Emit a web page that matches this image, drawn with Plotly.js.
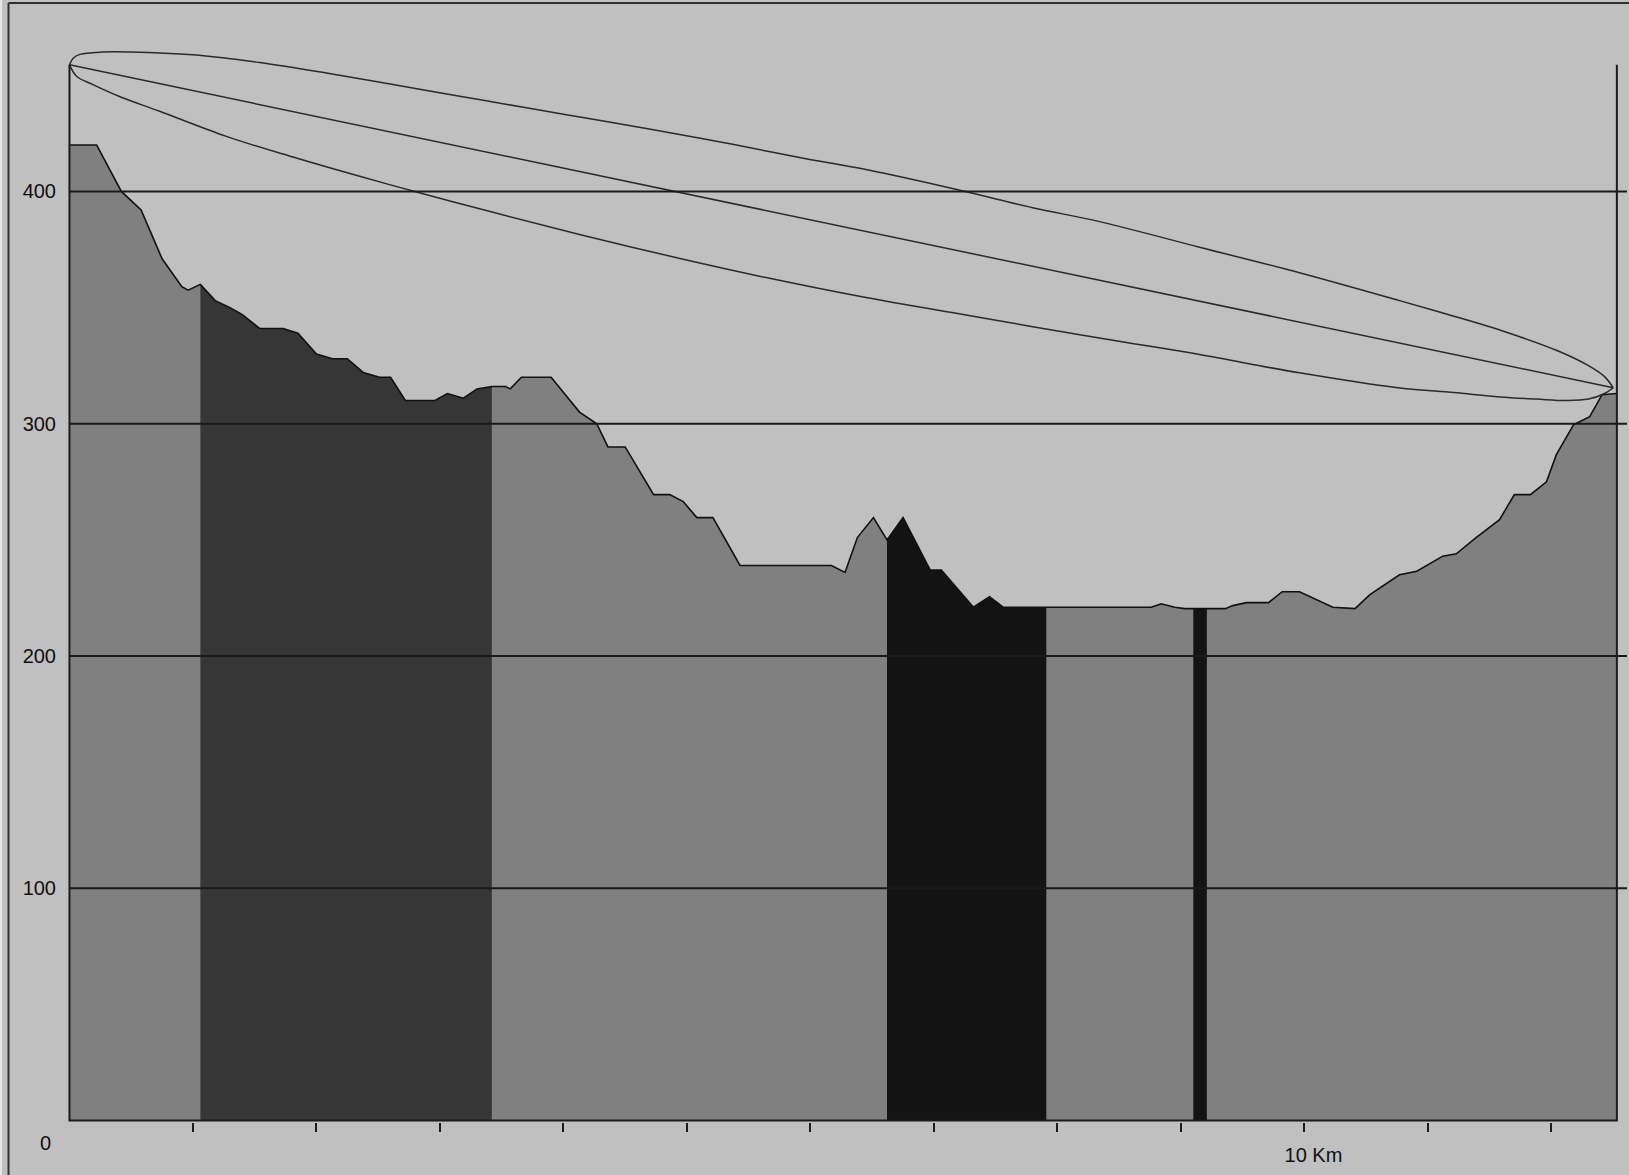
<!DOCTYPE html>
<html>
<head>
<meta charset="utf-8">
<script src="https://cdn.plot.ly/plotly-3.0.1.min.js"></script>
<style>
html,body{margin:0;padding:0;background:#c0c0c0;overflow:hidden;}
#chart{width:1629px;height:1175px;}
</style>
</head>
<body>
<div id="chart"></div>
<script>
// ---- Terrain profile (distance in km, elevation in m) ----
const distanceKm = [0, 0.22, 0.42, 0.58, 0.75, 0.91, 0.96, 1.06, 1.18, 1.30, 1.40, 1.54, 1.73, 1.85, 2.00, 2.13, 2.25, 2.38, 2.51, 2.60, 2.72, 2.96, 3.06, 3.19, 3.30, 3.42, 3.53, 3.57, 3.66, 3.90, 4.13, 4.27, 4.36, 4.50, 4.73, 4.86, 4.97, 5.08, 5.21, 5.43, 6.17, 6.28, 6.38, 6.51, 6.62, 6.75, 6.97, 7.06, 7.32, 7.45, 7.56, 8.34, 8.76, 8.84, 8.95, 9.03, 9.36, 9.42, 9.53, 9.71, 9.82, 9.96, 10.23, 10.41, 10.53, 10.77, 10.91, 11.12, 11.23, 11.39, 11.58, 11.70, 11.83, 11.96, 12.04, 12.18, 12.31, 12.41, 12.53];
const elevationM = [420, 420, 400, 392, 371, 359, 357.5, 360, 353, 350, 347, 341, 341, 339, 330, 328, 328, 322, 320, 320, 310, 310, 313, 311, 315, 316, 316, 315, 320, 320, 305, 300, 290, 290, 269.5, 269.5, 266.5, 259.6, 259.6, 239, 239, 236, 251, 259.6, 250, 259.6, 237, 237, 221, 225.5, 221, 221, 221, 222.5, 221, 220.4, 220.4, 221.7, 223, 223, 227.7, 227.7, 221, 220.4, 226.4, 235, 236.5, 243, 244, 251, 258.7, 269.5, 269.5, 275, 286.7, 299.6, 303, 312.5, 313];

// ---- Shaded sections of the profile ----
const sectionStartKm = [1.06, 6.62, 9.10];
const sectionEndKm   = [3.42, 7.91, 9.21];
const sectionColor   = ['#363636', '#131313', '#131313'];

// ---- Line of sight ----
const losX = [0, 12.50];
const losY = [454.5, 315.5];

// ---- Fresnel zone ellipse ----
const zoneUpperX = [0, 0.03, 0.085, 0.27, 0.49, 1.0, 1.54, 2.08, 2.62, 3.16, 3.70, 4.30, 4.84, 5.37, 5.91, 6.45, 7.21, 7.80, 8.34, 9.15, 9.96, 10.77, 11.21, 11.63, 12.05, 12.30, 12.43, 12.50];
const zoneUpperY = [454.5, 457.3, 459, 460, 460, 458.8, 455.5, 451, 446, 441, 436, 430.5, 425.5, 420.3, 414.6, 409.4, 400.5, 393, 387, 376, 365, 353, 346.3, 339.5, 331.4, 325, 320.3, 315.5];
const zoneLowerX = [0, 0.06, 0.19, 0.40, 0.73, 1.27, 1.81, 2.35, 2.90, 3.43, 4.13, 4.97, 5.65, 6.45, 7.26, 7.80, 8.51, 9.15, 9.96, 10.77, 11.21, 11.58, 11.88, 12.12, 12.30, 12.43, 12.50];
const zoneLowerY = [454.5, 449.5, 446, 441, 434.5, 423.7, 414.8, 406.5, 398.5, 391, 381.5, 370.8, 362.8, 354.3, 346.8, 341.8, 335.4, 329.8, 321.9, 315.4, 313.4, 311.5, 310.6, 310.0, 310.6, 313, 315.5];

// ---- Frame of the profile ----
const frameX = [0, 0, 12.53, 12.53];
const frameY = [454.5, 0, 0, 454.5];

// ---- Axis ticks ----
const yTickVals = [100, 200, 300, 400];
const yTickText = ['100', '200', '300', '400'];
const xTickVals = [1, 2, 3, 4, 5, 6, 7, 8, 9, 10, 11, 12];
const xTickText = ['', '', '', '', '', '', '', '', '', '10 Km', '', ''];

function elevAt(x) {
  for (let i = 0; i < distanceKm.length - 1; i++) {
    const a = distanceKm[i], b = distanceKm[i + 1];
    if (x >= a && x <= b) {
      const t = (x - a) / (b - a);
      return elevationM[i] + t * (elevationM[i + 1] - elevationM[i]);
    }
  }
  return elevationM[elevationM.length - 1];
}

function sectionPolygon(a, b) {
  const xs = [a, a], ys = [0, elevAt(a)];
  for (let i = 0; i < distanceKm.length; i++) {
    if (distanceKm[i] > a && distanceKm[i] < b) { xs.push(distanceKm[i]); ys.push(elevationM[i]); }
  }
  xs.push(b, b); ys.push(elevAt(b), 0);
  return {x: xs, y: ys};
}

const traces = [];
traces.push({x: distanceKm, y: elevationM, type: 'scatter', mode: 'lines', fill: 'tozeroy', fillcolor: '#808080', line: {width: 0}, hoverinfo: 'skip'});
for (let s = 0; s < sectionStartKm.length; s++) {
  const p = sectionPolygon(sectionStartKm[s], sectionEndKm[s]);
  traces.push({x: p.x, y: p.y, type: 'scatter', mode: 'lines', fill: 'toself', fillcolor: sectionColor[s], line: {width: 0}, hoverinfo: 'skip'});
}
traces.push({x: distanceKm, y: elevationM, type: 'scatter', mode: 'lines', line: {color: '#101010', width: 1.6}, hoverinfo: 'skip'});
traces.push({x: zoneUpperX, y: zoneUpperY, type: 'scatter', mode: 'lines', line: {color: '#2a2a2a', width: 1.5, shape: 'spline', smoothing: 1}, hoverinfo: 'skip'});
traces.push({x: zoneLowerX, y: zoneLowerY, type: 'scatter', mode: 'lines', line: {color: '#2a2a2a', width: 1.5, shape: 'spline', smoothing: 1}, hoverinfo: 'skip'});
traces.push({x: losX, y: losY, type: 'scatter', mode: 'lines', line: {color: '#2a2a2a', width: 1.5}, hoverinfo: 'skip'});
traces.push({x: frameX, y: frameY, type: 'scatter', mode: 'lines', line: {color: '#1a1a1a', width: 2}, hoverinfo: 'skip'});

const shapes = yTickVals.map(v => ({type: 'line', xref: 'paper', x0: 0.0016, x1: 1, yref: 'y', y0: v, y1: v, line: {color: '#1a1a1a', width: 2}, layer: 'above'}));
// window border
shapes.push({type: 'line', xref: 'paper', yref: 'paper', x0: -0.0375, x1: -0.0375, y0: 1.0247, y1: -0.06, line: {color: '#303030', width: 2}});
shapes.push({type: 'line', xref: 'paper', yref: 'paper', x0: -0.0375, x1: 1.01, y0: 1.0247, y1: 1.0247, line: {color: '#303030', width: 2}});
shapes.push({type: 'line', xref: 'paper', yref: 'paper', x0: -0.0423, x1: -0.0423, y0: 1.03, y1: -0.06, line: {color: '#e6e6e6', width: 2}});

const font = {family: 'Liberation Sans, Arial, sans-serif', size: 20, color: '#111111'};

const layout = {
  width: 1629, height: 1175,
  margin: {l: 67, r: 2, t: 30, b: 53},
  paper_bgcolor: '#c0c0c0', plot_bgcolor: '#c0c0c0',
  showlegend: false,
  hovermode: false,
  font: font,
  xaxis: {
    range: [-0.02, 12.612], showgrid: false, zeroline: false, showline: false,
    tickmode: 'array', tickvals: xTickVals, ticktext: xTickText,
    ticks: 'outside', ticklen: 9, tickwidth: 2, tickcolor: '#1a1a1a',
    ticklabelshift: 9, ticklabelstandoff: 6,
    tickfont: font, fixedrange: true
  },
  yaxis: {
    range: [-0.6, 469.5], showgrid: false, zeroline: false, showline: false,
    tickmode: 'array', tickvals: yTickVals, ticktext: yTickText,
    ticks: '', ticklabelstandoff: 10,
    tickfont: font, fixedrange: true
  },
  shapes: shapes,
  annotations: [{xref: 'paper', x: 0, xanchor: 'right', xshift: -14, yref: 'y', y: 0, yanchor: 'middle', yshift: -22, text: '0', showarrow: false, font: font}]
};

Plotly.newPlot('chart', traces, layout, {displayModeBar: false, staticPlot: true});
</script>
</body>
</html>
